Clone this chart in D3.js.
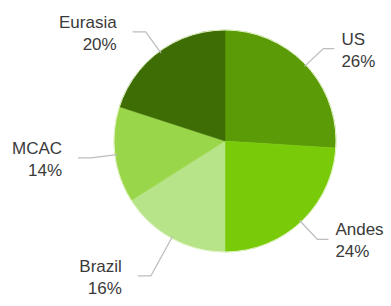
<!DOCTYPE html>
<html>
<head>
<meta charset="utf-8">
<script src="https://cdn.jsdelivr.net/npm/d3@7/dist/d3.min.js"></script>
<style>
  body { margin: 0; background: #fff; }
  svg { display: block; }
</style>
</head>
<body>
<div id="main"></div>
<script>
// regions and their share, clockwise from 12 o'clock
var regions = ['US', 'Andes', 'Brazil', 'MCAC', 'Eurasia'];
var shares = [26, 24, 16, 14, 20];
var sliceColors = ['#5b9b07', '#79ca08', '#b7e489', '#9ad649', '#3f6d05'];

var width = 391, height = 306;
var cx = 225, cy = 141, radius = 111;

// extra leader length where a label sits further out
var leaderExtra = { Brazil: 19 };

var svg = d3.select('#main').append('svg')
  .attr('width', width)
  .attr('height', height);

var g = svg.append('g')
  .attr('transform', 'translate(' + cx + ',' + cy + ')');

var data = regions.map(function (r, i) {
  return { name: r, value: shares[i], color: sliceColors[i] };
});

var pie = d3.pie().sort(null).value(function (d) { return d.value; });
var arcs = pie(data);

var arc = d3.arc().innerRadius(0).outerRadius(radius);

g.selectAll('path.slice')
  .data(arcs)
  .enter()
  .append('path')
  .attr('class', 'slice')
  .attr('d', arc)
  .attr('fill', function (d) { return d.data.color; })
  .attr('stroke', function (d) { return d.data.color; })
  .attr('stroke-width', 0.5);

// light rim round the pie
g.append('circle')
  .attr('r', radius)
  .attr('fill', 'none')
  .attr('stroke', '#e4f5c8')
  .attr('stroke-width', 1);

function point(angle, r) {
  return [Math.sin(angle) * r, -Math.cos(angle) * r];
}

arcs.forEach(function (d) {
  var mid = (d.startAngle + d.endAngle) / 2;
  var right = Math.sin(mid) > 0;
  var p0 = point(mid, radius - 2);
  var p1 = point(mid, radius + 24 + (leaderExtra[d.data.name] || 0));
  var p2 = [p1[0] + (right ? 11 : -13), p1[1]];

  g.append('path')
    .attr('d', d3.line()([p0, p1, p2]))
    .attr('fill', 'none')
    .attr('stroke', '#bdbdbd')
    .attr('stroke-width', 1.3);

  var tx = p2[0] + (right ? 7 : -16);
  var text = g.append('text')
    .attr('x', tx)
    .attr('y', p1[1] - 4)
    .attr('text-anchor', right ? 'start' : 'end')
    .attr('font-family', 'Liberation Sans, Arial, sans-serif')
    .attr('font-size', 17)
    .attr('fill', '#3a3a3a');

  text.append('tspan')
    .attr('x', tx)
    .text(d.data.name);

  text.append('tspan')
    .attr('x', tx)
    .attr('dy', 22)
    .text(d.data.value + '%');
});
</script>
</body>
</html>
